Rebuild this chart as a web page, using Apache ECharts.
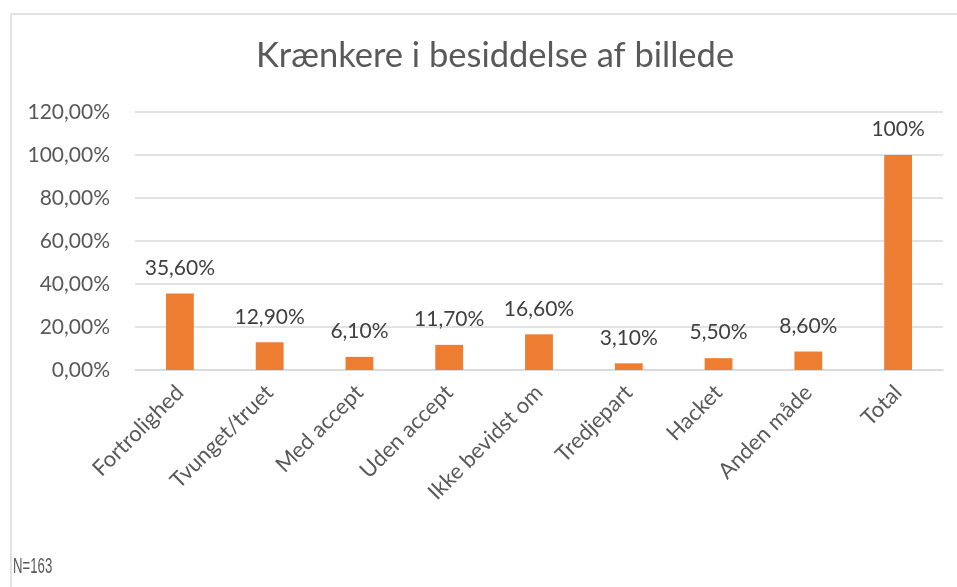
<!DOCTYPE html>
<html>
<head>
<meta charset="utf-8">
<script src="https://cdn.jsdelivr.net/npm/echarts@6/dist/echarts.min.js"></script>
<style>
  html, body { margin: 0; padding: 0; background: #fff; }
  #chart { width: 957px; height: 587px; }
</style>
</head>
<body>
<div id="chart"></div>
<script>
const categories = ['Fortrolighed', 'Tvunget/truet', 'Med accept', 'Uden accept', 'Ikke bevidst om',
  'Tredjepart', 'Hacket', 'Anden måde', 'Total']
const shares = [0.356, 0.129, 0.061, 0.117, 0.166, 0.031, 0.055, 0.086, 1.0]
const titleText = 'Krænkere i besiddelse af billede'
const noteText = 'N=163'

const fontFamily = 'Lato, "Open Sans", sans-serif'
const grey = '#595959'

// excel style percent with comma decimals, "100%" kept short like the source
const pct = (v, digits) => (v * 100).toFixed(digits).replace('.', ',') + '%'

const chart = echarts.init(document.getElementById('chart'), null, {renderer: 'canvas'})

chart.setOption({
  animation: false,
  backgroundColor: '#fff',
  title: {
    text: titleText,
    left: 251,
    top: 33,
    textStyle: {fontFamily, fontSize: 34.5, fontWeight: 'normal', color: grey}
  },
  graphic: [
    {type: 'line', shape: {x1: 11, y1: 14, x2: 957, y2: 14}, style: {stroke: '#d9d9d9', lineWidth: 1.5}},
    {type: 'line', shape: {x1: 11, y1: 14, x2: 11, y2: 587}, style: {stroke: '#d9d9d9', lineWidth: 1.5}},
    // the note in the source is squeezed narrow, so scale it sideways
    {type: 'text', x: 13, y: 556, scaleX: 0.6,
      style: {text: noteText, font: '22px "Liberation Sans", sans-serif', fill: grey}}
  ],
  grid: {left: 135, right: 14, top: 112, bottom: 217, containLabel: false},
  xAxis: {
    type: 'category',
    data: categories,
    axisTick: {show: false},
    axisLine: {lineStyle: {color: '#d9d9d9', width: 1.5}},
    axisLabel: {rotate: 45, margin: 19, fontFamily, fontSize: 22, color: grey, interval: 0}
  },
  yAxis: {
    type: 'value',
    min: 0,
    max: 1.2,
    interval: 0.2,
    axisLine: {show: false},
    axisTick: {show: false},
    splitLine: {lineStyle: {color: '#d9d9d9', width: 1.5}},
    axisLabel: {margin: 25, fontFamily, fontSize: 21, color: grey, formatter: v => pct(v, 2)}
  },
  series: [{
    type: 'bar',
    data: shares,
    barWidth: '31%',
    itemStyle: {color: '#ED7D31'},
    label: {
      show: true,
      position: 'top',
      distance: 15,
      fontFamily,
      fontSize: 21,
      color: '#404040',
      formatter: p => p.value === 1 ? '100%' : pct(p.value, 2)
    }
  }]
})
</script>
</body>
</html>
